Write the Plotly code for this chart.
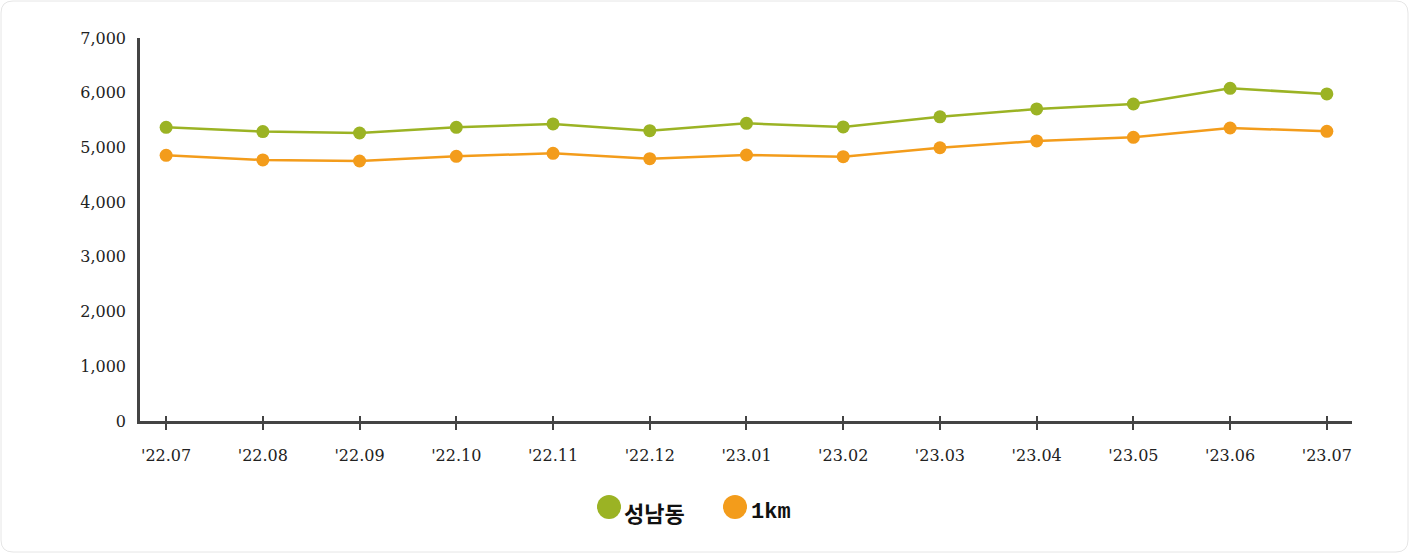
import plotly.graph_objects as go

months = ["'22.07", "'22.08", "'22.09", "'22.10", "'22.11", "'22.12", "'23.01",
          "'23.02", "'23.03", "'23.04", "'23.05", "'23.06", "'23.07"]
seongnam = [5368, 5290, 5264, 5368, 5429, 5306, 5441, 5374, 5560, 5703, 5794, 6081, 5977]
radius_1km = [4856, 4771, 4752, 4838, 4893, 4794, 4862, 4831, 4994, 5118, 5185, 5355, 5295]

GREEN = "#9bb324"
ORANGE = "#f39c1b"
AXIS = "#444444"
TEXT = "#222222"

W, H = 1412, 555
L, R, T, B = 140, 60, 38, 134


def px_x(p):
    return (p - L) / (W - L - R)


def px_y(p):
    return (H - B - p) / (H - T - B)


def rounded_box(x0, y0, x1, y1, r):
    # rounded rectangle in paper coords, built from pixel positions
    pts = [
        f"M {px_x(x0 + r)} {px_y(y0)}",
        f"L {px_x(x1 - r)} {px_y(y0)}",
        f"Q {px_x(x1)} {px_y(y0)} {px_x(x1)} {px_y(y0 + r)}",
        f"L {px_x(x1)} {px_y(y1 - r)}",
        f"Q {px_x(x1)} {px_y(y1)} {px_x(x1 - r)} {px_y(y1)}",
        f"L {px_x(x0 + r)} {px_y(y1)}",
        f"Q {px_x(x0)} {px_y(y1)} {px_x(x0)} {px_y(y1 - r)}",
        f"L {px_x(x0)} {px_y(y0 + r)}",
        f"Q {px_x(x0)} {px_y(y0)} {px_x(x0 + r)} {px_y(y0)} Z",
    ]
    return " ".join(pts)


fig = go.Figure()

series = [("성남동", seongnam, GREEN), ("1km", radius_1km, ORANGE)]
for name, vals, color in series:
    fig.add_trace(go.Scatter(
        x=months, y=vals, mode="lines+markers", name=name, showlegend=False,
        line=dict(color=color, width=2.5),
        marker=dict(size=13, color=color),
        hovertemplate="%{x}<br>%{y:,}<extra>" + name + "</extra>",
    ))

# helper trace so the overlay axis (ticks crossing the x axis line) gets drawn
fig.add_trace(go.Scatter(x=[None], y=[None], xaxis="x2", showlegend=False, hoverinfo="skip"))

# legend drawn by hand: big dots + labels
legend_items = [
    (609, 622, "<b>성남동</b>", GREEN, "Noto Sans CJK KR", 22),
    (735, 749, "<b>1km</b>", ORANGE, "Liberation Mono", 22),
]
shapes = [dict(
    type="path", xref="paper", yref="paper", layer="below",
    path=rounded_box(1, 1, W - 4, H - 3, 12),
    line=dict(color="#e6e6e6", width=1), fillcolor="rgba(0,0,0,0)",
)]
annotations = []
for dot_x, text_x, label, color, family, size in legend_items:
    shapes.append(dict(
        type="circle", xref="paper", yref="paper",
        xsizemode="pixel", ysizemode="pixel",
        xanchor=px_x(dot_x), yanchor=px_y(507),
        x0=-12, x1=12, y0=-12, y1=12,
        fillcolor=color, line=dict(width=0),
    ))
    annotations.append(dict(
        text=label, xref="paper", yref="paper", x=px_x(text_x), y=px_y(512),
        xanchor="left", yanchor="middle", showarrow=False,
        font=dict(family=family, size=size, color="#111111"),
    ))

fig.update_layout(
    width=W, height=H,
    margin=dict(l=L, r=R, t=T, b=B),
    paper_bgcolor="white",
    plot_bgcolor="white",
    font=dict(family="DejaVu Serif, Liberation Serif, serif", color=TEXT, size=16),
    showlegend=False,
    xaxis=dict(
        type="category", range=[-0.27, 12.26],
        showgrid=False, zeroline=False,
        showline=True, linecolor=AXIS, linewidth=2.5,
        ticks="outside", ticklen=6, tickwidth=2, tickcolor=AXIS,
        ticklabelstandoff=12,
        tickfont=dict(size=16, color=TEXT),
    ),
    xaxis2=dict(
        overlaying="x", anchor="y", range=[-0.27, 12.26],
        tickmode="array", tickvals=list(range(len(months))),
        ticks="inside", ticklen=5, tickwidth=2, tickcolor=AXIS,
        showticklabels=False, showgrid=False, zeroline=False, showline=False,
    ),
    yaxis=dict(
        range=[0, 7000], dtick=1000, tickformat=",",
        showgrid=False, zeroline=False,
        showline=True, linecolor=AXIS, linewidth=2.5,
        ticks="", ticklabelstandoff=8,
        tickfont=dict(size=16, color=TEXT),
    ),
    shapes=shapes,
    annotations=annotations,
)

fig.write_html("out.html", config={"displayModeBar": False},
               post_script="document.body.style.margin='0';")
